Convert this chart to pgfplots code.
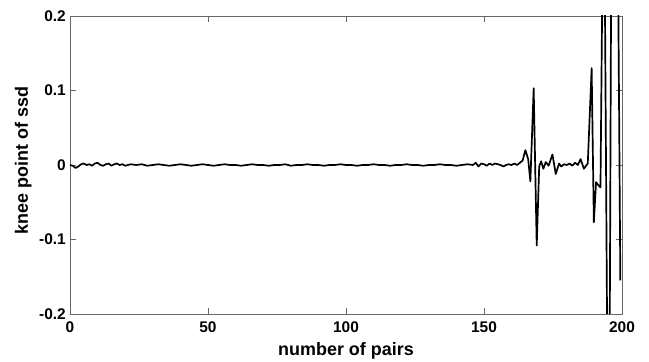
\documentclass[border=0pt]{standalone}
\usepackage{pgfplots}
\pgfplotsset{compat=1.18}
\usepackage{fontspec}
\setmainfont{Liberation Sans}
\begin{document}
\begin{tikzpicture}
\begin{axis}[
  scale only axis,
  width=552bp, height=298bp,
  xmin=0, xmax=200, ymin=-0.2, ymax=0.2,
  xtick={0,50,100,150,200},
  ytick={-0.2,-0.1,0,0.1,0.2},
  yticklabels={-0.2,-0.1,0,0.1,0.2},
  xticklabels={0,50,100,150,200},
  tick align=inside,
  major tick length=6bp,
  axis line style={draw=gray!80!black, line width=0.8pt},
  every tick/.style={draw=gray!80!black, line width=0.6pt},
  tick label style={font=\fontsize{15.5}{17}\selectfont\bfseries, inner sep=0pt},
  xticklabel style={anchor=north, yshift=-8bp},
  yticklabel style={anchor=east, xshift=-4bp},
  label style={font=\fontsize{18}{20}\selectfont\bfseries, inner sep=0pt},
  xlabel={number of pairs},
  ylabel={knee point of ssd},
  xlabel style={at={([yshift=-42bp]rel axis cs:0.5,0)}, anchor=base},
  ylabel style={at={([xshift=-42bp]rel axis cs:0,0.515)}, anchor=base},
  clip=true,
]
\addplot[black, line width=1.7pt, line join=round] coordinates {
(0,0.000)(1,-0.001)(2,-0.004)(3,-0.002)(4,0.001)(5,0.002)(6,0.000)(7,0.001)(8,-0.001)(9,0.002)(10,0.003)(11,0.000)(12,-0.001)(13,0.001)(14,0.002)(15,-0.001)(16,0.001)(17,0.002)(18,0.000)(19,0.001)(20,-0.001)(22,0.001)(24,0.000)(26,0.001)(28,-0.001)(30,0.000)(32,0.001)(34,0.000)(36,-0.001)(38,0.000)(40,0.001)(42,0.000)(44,-0.001)(46,0.000)(48,0.001)(50,0.000)(52,-0.001)(54,0.000)(56,0.001)(58,0.000)(60,0.000)(62,-0.001)(64,0.000)(66,0.001)(68,0.000)(70,0.000)(72,-0.001)(74,0.000)(76,0.000)(78,0.001)(80,-0.001)(82,0.000)(84,0.000)(86,0.001)(88,0.000)(90,0.000)(92,-0.001)(94,0.000)(96,0.000)(98,0.001)(100,0.000)(102,0.000)(104,-0.001)(106,0.000)(108,0.000)(110,0.001)(112,0.000)(114,0.000)(116,-0.001)(118,0.000)(120,0.000)(122,0.001)(124,0.000)(126,0.000)(128,-0.001)(130,0.000)(132,0.000)(134,0.001)(136,0.000)(138,0.000)(140,-0.001)(142,0.000)(144,0.001)(146,0.000)(147,0.003)(148,-0.002)(149,0.002)(150,0.001)(151,-0.001)(152,0.002)(153,0.000)(154,0.002)(155,0.001)(156,0.000)(157,-0.002)(158,0.000)(159,0.001)(160,0.000)(161,0.002)(162,0.000)(163,0.003)(164,0.006)(165,0.020)(166,0.008)(166.8,-0.022)(168,0.103)(169.1,-0.108)(170,-0.002)(170.7,0.005)(171.5,-0.005)(172.4,0.004)(173.4,-0.001)(174.8,0.014)(176,-0.012)(177.2,0.002)(178,-0.002)(179,0.001)(180,0.000)(181,0.002)(182,-0.001)(183,0.003)(184,0.000)(185,0.008)(186.2,-0.005)(187.6,0.002)(189,0.130)(189.8,-0.077)(190.6,-0.023)(191.4,-0.027)(192.2,-0.030)(193.4,0.45)(195.2,-0.55)(196.4,0.55)(198.2,0.45)(199.4,-0.155)
};
\end{axis}
\pgfresetboundingbox
\path (current axis.south west) ++(-70bp,-48bp) coordinate (bbA);
\path (current axis.north east) ++(27bp,16bp) coordinate (bbB);
\useasboundingbox (bbA) rectangle (bbB);
\end{tikzpicture}
\end{document}
